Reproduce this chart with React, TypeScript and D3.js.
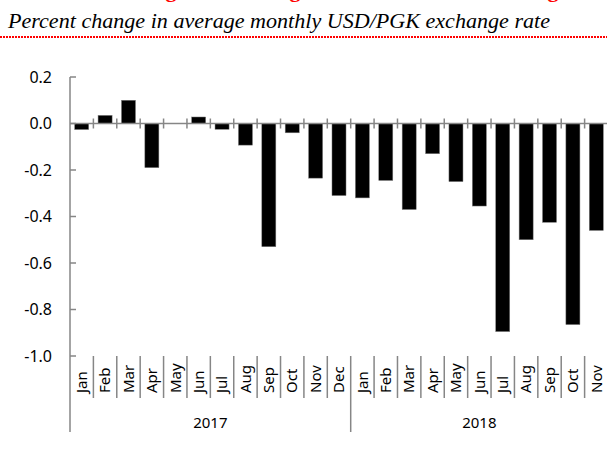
import * as d3 from "d3";

const months = ["Jan", "Feb", "Mar", "Apr", "May", "Jun", "Jul", "Aug", "Sep", "Oct", "Nov", "Dec",
  "Jan", "Feb", "Mar", "Apr", "May", "Jun", "Jul", "Aug", "Sep", "Oct", "Nov"];
const changes = [-0.026, 0.035, 0.1, -0.19, 0, 0.028, -0.025, -0.093, -0.53, -0.04, -0.235, -0.31,
  -0.32, -0.245, -0.37, -0.13, -0.25, -0.355, -0.895, -0.5, -0.425, -0.865, -0.46];
const years = [
  { label: "2017", start: 0, count: 12 },
  { label: "2018", start: 12, count: 11 },
];
const yTicks = [0.2, 0, -0.2, -0.4, -0.6, -0.8, -1.0];

const W = 607, H = 459;
const left = 70, right = 608, top = 77, bottom = 356;
const axisColor = "#868686";
const labelFont = "'Noto Sans', 'Open Sans', sans-serif";

export default function App() {
  const y = d3.scaleLinear().domain([-1.0, 0.2]).range([bottom, top]);
  const x = d3.scaleBand<number>().domain(d3.range(months.length)).range([left, right]).padding(0);
  const bw = x.bandwidth();
  const barW = bw * 0.6;

  return (
    <svg width={W} height={H} style={{ position: "absolute", left: 0, top: 0, background: "#fff" }}>
      {/* cut-off red headline above the subtitle */}
      {[171, 295, 553].map((gx) => (
        <text key={gx} x={gx} y={-3} textAnchor="middle" fill="#ff0000" fontWeight="bold"
          fontFamily="'Liberation Serif', serif" fontSize={22}>g</text>
      ))}
      <text x={8} y={28} fontFamily="'Liberation Serif', serif" fontStyle="italic" fontSize={21}
        textLength={542} lengthAdjust="spacingAndGlyphs" fill="#000">
        Percent change in average monthly USD/PGK exchange rate
      </text>
      <line x1={0} x2={W} y1={37} y2={37} stroke="#ff0000" strokeWidth={1.2} strokeDasharray="1.5,1.5"
        shapeRendering="crispEdges" />

      {/* bars */}
      {changes.map((v, i) => (
        <rect key={i} x={(x(i) as number) + (bw - barW) / 2} width={barW}
          y={Math.min(y(v), y(0))} height={Math.abs(y(v) - y(0))}
          fill="#000" stroke="#7f7f7f" strokeWidth={0.5} />
      ))}

      {/* y axis */}
      <line x1={left} x2={left} y1={top} y2={bottom + 76} stroke={axisColor} strokeWidth={1.5} />
      {yTicks.map((t) => (
        <g key={t}>
          <line x1={left} x2={left + 6} y1={y(t)} y2={y(t)} stroke={axisColor} strokeWidth={1.5} />
          <text x={52} y={y(t)} dy="0.35em" textAnchor="end" fontFamily={labelFont} fontSize={16} fill="#000">
            {d3.format(".1f")(t).replace("−", "-")}
          </text>
        </g>
      ))}

      {/* zero line with category ticks */}
      <line x1={left} x2={right} y1={y(0)} y2={y(0)} stroke={axisColor} strokeWidth={1.5} />
      {d3.range(1, months.length).map((i) => (
        <line key={i} x1={x(i)} x2={x(i)} y1={y(0) - 5} y2={y(0) + 5} stroke={axisColor} strokeWidth={1.5} />
      ))}

      {/* category axis labels */}
      {d3.range(1, months.length).map((i) => (
        <line key={"s" + i} x1={x(i)} x2={x(i)} y1={bottom} y2={i === 12 ? bottom + 76 : bottom + 42}
          stroke={axisColor} strokeWidth={1.5} />
      ))}
      {months.map((m, i) => {
        const cx = (x(i) as number) + bw / 2;
        return (
          <text key={"m" + i} transform={`translate(${cx},393) rotate(-90)`} dy="0.35em"
            fontFamily={labelFont} fontSize={15} fill="#000">{m}</text>
        );
      })}
      {years.map((yr) => {
        const x0 = x(yr.start) as number;
        const x1 = yr.start + yr.count < months.length ? (x(yr.start + yr.count) as number) : right;
        return (
          <text key={yr.label} x={(x0 + x1) / 2} y={428} textAnchor="middle"
            fontFamily={labelFont} fontSize={15} fill="#000">{yr.label}</text>
        );
      })}
    </svg>
  );
}
